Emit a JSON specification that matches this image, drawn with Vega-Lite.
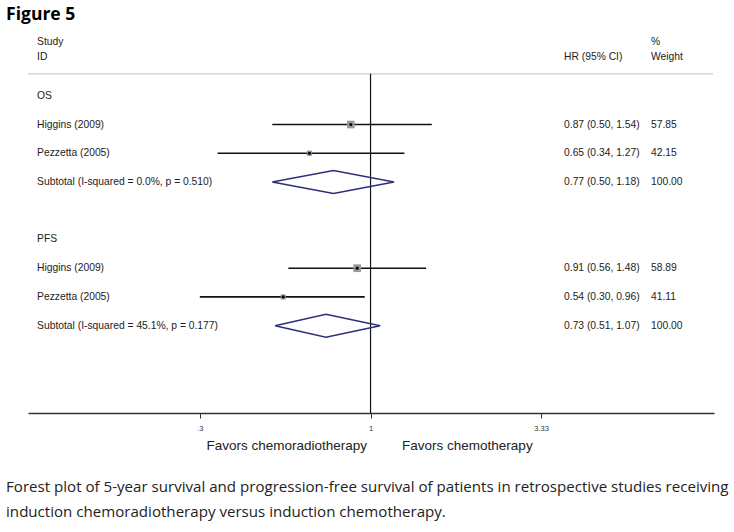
{
  "$schema": "https://vega.github.io/schema/vega-lite/v6.json",
  "width": 686,
  "height": 383,
  "autosize": {"type": "none"},
  "padding": {"left": 28, "top": 30, "right": 20, "bottom": 119},
  "background": "white",
  "config": {"view": {"stroke": null}, "text": {"font": "Liberation Sans", "color": "#222222"}},
  "datasets": {
    "studies": [
      {"study": "Higgins (2009)", "group": "OS", "row": 2, "hr": 0.87, "lo": 0.50, "hi": 1.54, "weight": 57.85},
      {"study": "Pezzetta (2005)", "group": "OS", "row": 3, "hr": 0.65, "lo": 0.34, "hi": 1.27, "weight": 42.15},
      {"study": "Higgins (2009)", "group": "PFS", "row": 7, "hr": 0.91, "lo": 0.56, "hi": 1.48, "weight": 58.89},
      {"study": "Pezzetta (2005)", "group": "PFS", "row": 8, "hr": 0.54, "lo": 0.30, "hi": 0.96, "weight": 41.11}
    ],
    "labels": [
      {"txt": "OS", "row": 1, "ci": "", "wt": ""},
      {"txt": "Higgins (2009)", "row": 2, "ci": "0.87 (0.50, 1.54)", "wt": "57.85"},
      {"txt": "Pezzetta (2005)", "row": 3, "ci": "0.65 (0.34, 1.27)", "wt": "42.15"},
      {"txt": "Subtotal  (I-squared = 0.0%, p = 0.510)", "row": 4, "ci": "0.77 (0.50, 1.18)", "wt": "100.00"},
      {"txt": "PFS", "row": 6, "ci": "", "wt": ""},
      {"txt": "Higgins (2009)", "row": 7, "ci": "0.91 (0.56, 1.48)", "wt": "58.89"},
      {"txt": "Pezzetta (2005)", "row": 8, "ci": "0.54 (0.30, 0.96)", "wt": "41.11"},
      {"txt": "Subtotal  (I-squared = 45.1%, p = 0.177)", "row": 9, "ci": "0.73 (0.51, 1.07)", "wt": "100.00"}
    ],
    "diamonds": [
      {"grp": "OS", "k": 0, "hr": 0.50, "row": 4},
      {"grp": "OS", "k": 1, "hr": 0.77, "row": 3.6},
      {"grp": "OS", "k": 2, "hr": 1.18, "row": 4},
      {"grp": "OS", "k": 3, "hr": 0.77, "row": 4.4},
      {"grp": "OS", "k": 4, "hr": 0.50, "row": 4},
      {"grp": "PFS", "k": 0, "hr": 0.51, "row": 9},
      {"grp": "PFS", "k": 1, "hr": 0.73, "row": 8.6},
      {"grp": "PFS", "k": 2, "hr": 1.07, "row": 9},
      {"grp": "PFS", "k": 3, "hr": 0.73, "row": 9.4},
      {"grp": "PFS", "k": 4, "hr": 0.51, "row": 9}
    ]
  },
  "encoding": {
    "x": {"type": "quantitative"},
    "y": {"type": "quantitative"}
  },
  "layer": [
    {
      "data": {"values": [{}]},
      "mark": {"type": "rule", "color": "#cfcfcf", "strokeWidth": 1.2},
      "encoding": {
        "x": {"datum": 0.0893, "type": "quantitative",
          "scale": {"type": "log", "domain": [0.0893, 11.27], "nice": false},
          "axis": {"values": [0.3, 1, 3.33], "labelExpr": "datum.value < 0.5 ? '.3' : (datum.value < 2 ? '1' : '3.33')",
            "labelFontSize": 7.5, "labelFont": "Liberation Sans", "labelColor": "#333", "labelPadding": 6,
            "tickSize": 5, "tickColor": "#333", "domainColor": "#333", "domainWidth": 1.3, "tickWidth": 1, "grid": false, "title": null, "labelFlush": false}},
        "x2": {"datum": 11.2},
        "y": {"datum": 0.236, "type": "quantitative", "scale": {"domain": [12.04, -1.29], "nice": false, "zero": false}, "axis": null}
      }
    },
    {
      "data": {"values": [{}]},
      "mark": {"type": "rule", "color": "#111", "strokeWidth": 1.2},
      "encoding": {
        "x": {"datum": 1},
        "y": {"datum": 0.236},
        "y2": {"datum": 12.04}
      }
    },
    {
      "data": {"name": "studies"},
      "mark": {"type": "rule", "color": "#111", "strokeWidth": 1.6},
      "encoding": {
        "x": {"field": "lo"},
        "x2": {"field": "hi"},
        "y": {"field": "row"}
      }
    },
    {
      "data": {"name": "studies"},
      "mark": {"type": "point", "shape": "square", "filled": true, "color": "#9a9a9a", "opacity": 1},
      "encoding": {
        "x": {"field": "hr"},
        "y": {"field": "row"},
        "size": {"field": "weight", "type": "quantitative", "scale": {"domain": [40, 60], "range": [24, 62]}, "legend": null}
      }
    },
    {
      "data": {"name": "studies"},
      "mark": {"type": "point", "shape": "circle", "filled": true, "color": "#000", "size": 10, "opacity": 1},
      "encoding": {
        "x": {"field": "hr"},
        "y": {"field": "row"}
      }
    },
    {
      "data": {"name": "diamonds"},
      "mark": {"type": "line", "color": "#2b2f78", "strokeWidth": 1.5},
      "encoding": {
        "x": {"field": "hr"},
        "y": {"field": "row"},
        "detail": {"field": "grp", "type": "nominal"},
        "order": {"field": "k", "type": "quantitative"}
      }
    },
    {
      "data": {"name": "labels"},
      "mark": {"type": "text", "align": "left", "baseline": "middle", "fontSize": 10.3},
      "encoding": {
        "x": {"datum": 0.0952},
        "y": {"field": "row"},
        "text": {"field": "txt"}
      }
    },
    {
      "data": {"name": "labels"},
      "mark": {"type": "text", "align": "left", "baseline": "middle", "fontSize": 10.3},
      "encoding": {
        "x": {"datum": 3.914},
        "y": {"field": "row"},
        "text": {"field": "ci"}
      }
    },
    {
      "data": {"name": "labels"},
      "mark": {"type": "text", "align": "left", "baseline": "middle", "fontSize": 10.3},
      "encoding": {
        "x": {"datum": 7.23},
        "y": {"field": "row"},
        "text": {"field": "wt"}
      }
    },
    {
      "data": {"values": [
        {"txt": "Study", "row": -0.875, "col": 0.0952},
        {"txt": "ID", "row": -0.354, "col": 0.0952},
        {"txt": "HR (95% CI)", "row": -0.354, "col": 3.914},
        {"txt": "%", "row": -0.875, "col": 7.23},
        {"txt": "Weight", "row": -0.354, "col": 7.23}
      ]},
      "mark": {"type": "text", "align": "left", "baseline": "middle", "fontSize": 10.3},
      "encoding": {
        "x": {"field": "col"},
        "y": {"field": "row"},
        "text": {"field": "txt"}
      }
    },
    {
      "data": {"values": [{"txt": "Favors chemoradiotherapy"}]},
      "mark": {"type": "text", "align": "right", "baseline": "middle", "fontSize": 13.5, "color": "#222"},
      "encoding": {
        "x": {"datum": 0.976},
        "y": {"datum": 13.19},
        "text": {"field": "txt"}
      }
    },
    {
      "data": {"values": [{"txt": "Favors chemotherapy"}]},
      "mark": {"type": "text", "align": "left", "baseline": "middle", "fontSize": 13.5, "color": "#222"},
      "encoding": {
        "x": {"datum": 1.249},
        "y": {"datum": 13.19},
        "text": {"field": "txt"}
      }
    },
    {
      "data": {"values": [{"txt": "Figure 5"}]},
      "mark": {"type": "text", "align": "left", "baseline": "middle", "fontSize": 17.5, "font": "Open Sans", "fontWeight": "bold", "color": "#000"},
      "encoding": {
        "x": {"datum": 0.0765},
        "y": {"datum": -1.8125},
        "text": {"field": "txt"}
      }
    },
    {
      "data": {"values": [
        {"txt": "Forest plot of 5-year survival and progression-free survival of patients in retrospective studies receiving", "row": 14.61},
        {"txt": "induction chemoradiotherapy versus induction chemotherapy.", "row": 15.48}
      ]},
      "mark": {"type": "text", "align": "left", "baseline": "middle", "fontSize": 15.1, "font": "Open Sans", "color": "#222"},
      "encoding": {
        "x": {"datum": 0.0765},
        "y": {"field": "row"},
        "text": {"field": "txt"}
      }
    }
  ]
}
